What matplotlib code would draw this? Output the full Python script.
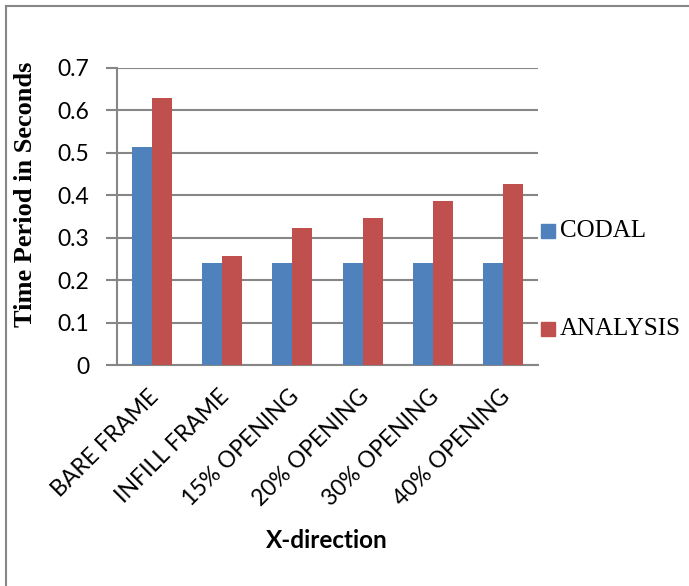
import matplotlib.pyplot as plt
import matplotlib.patches as mpatches
import numpy as np

categories = ['BARE FRAME', 'INFILL FRAME', '15% OPENING', '20% OPENING',
              '30% OPENING', '40% OPENING']
codal = [0.514, 0.240, 0.240, 0.240, 0.240, 0.240]
analysis = [0.629, 0.258, 0.322, 0.346, 0.386, 0.426]
yticks = [0, 0.1, 0.2, 0.3, 0.4, 0.5, 0.6, 0.7]

blue = '#4F81BD'
red = '#C0504D'
grid_col = '#868686'

fig = plt.figure(figsize=(6.89, 5.86), dpi=100)
ax = fig.add_axes([117/689, 1 - 365/586, (538 - 117)/689, (365 - 68)/586])

x = np.arange(len(categories))
w = 0.285
ax.bar(x - w/2, codal, w, color=blue, zorder=3)
ax.bar(x + w/2, analysis, w, color=red, zorder=3)

ax.set_xlim(-0.5, len(categories) - 0.5)
ax.set_ylim(0, 0.7)
ax.set_yticks(yticks)
ax.set_yticklabels(['0' if v == 0 else f'{v:.1f}' for v in yticks],
                   fontfamily='Lato', fontsize=16.5)
ax.yaxis.grid(True, color=grid_col, linewidth=1.5, zorder=0)
ax.tick_params(axis='y', length=8, width=1.5, color=grid_col, pad=12)
ax.tick_params(axis='x', length=0, pad=15)

ax.set_xticks(x - 0.06)
ax.set_xticklabels(categories, rotation=45, ha='right', va='top',
                   rotation_mode='anchor', fontfamily='Lato', fontsize=16.5)

for side in ['top', 'right']:
    ax.spines[side].set_visible(False)
for side in ['left', 'bottom']:
    ax.spines[side].set_color(grid_col)
    ax.spines[side].set_linewidth(1.5)

fig.text(26/689, 1 - 194/586, 'Time Period in Seconds', rotation=90,
         ha='center', va='center', fontfamily='Liberation Serif',
         fontweight='bold', fontsize=19)
fig.text(327/689, 1 - 540/586, 'X-direction', ha='center', va='center',
         fontfamily='Lato', fontweight='bold', fontsize=17.5)

# legend entries placed by hand, far apart
for label, col, yp in [('CODAL', blue, 231), ('ANALYSIS', red, 329)]:
    fig.patches.append(mpatches.Rectangle((541/689, 1 - (yp + 7)/586), 14/689, 14/586,
                                          color=col, transform=fig.transFigure))
    fig.text(560/689, 1 - yp/586, label, ha='left', va='center',
             fontfamily='Liberation Serif', fontsize=18)

# outer frame, top and left edges
fig.add_artist(plt.Line2D([6/689, 6/689], [0, 1 - 6/586], color=grid_col,
                          linewidth=1.5, transform=fig.transFigure))
fig.add_artist(plt.Line2D([6/689, 1], [1 - 6/586, 1 - 6/586], color=grid_col,
                          linewidth=1.5, transform=fig.transFigure))

fig.savefig('out.png', dpi=100)
